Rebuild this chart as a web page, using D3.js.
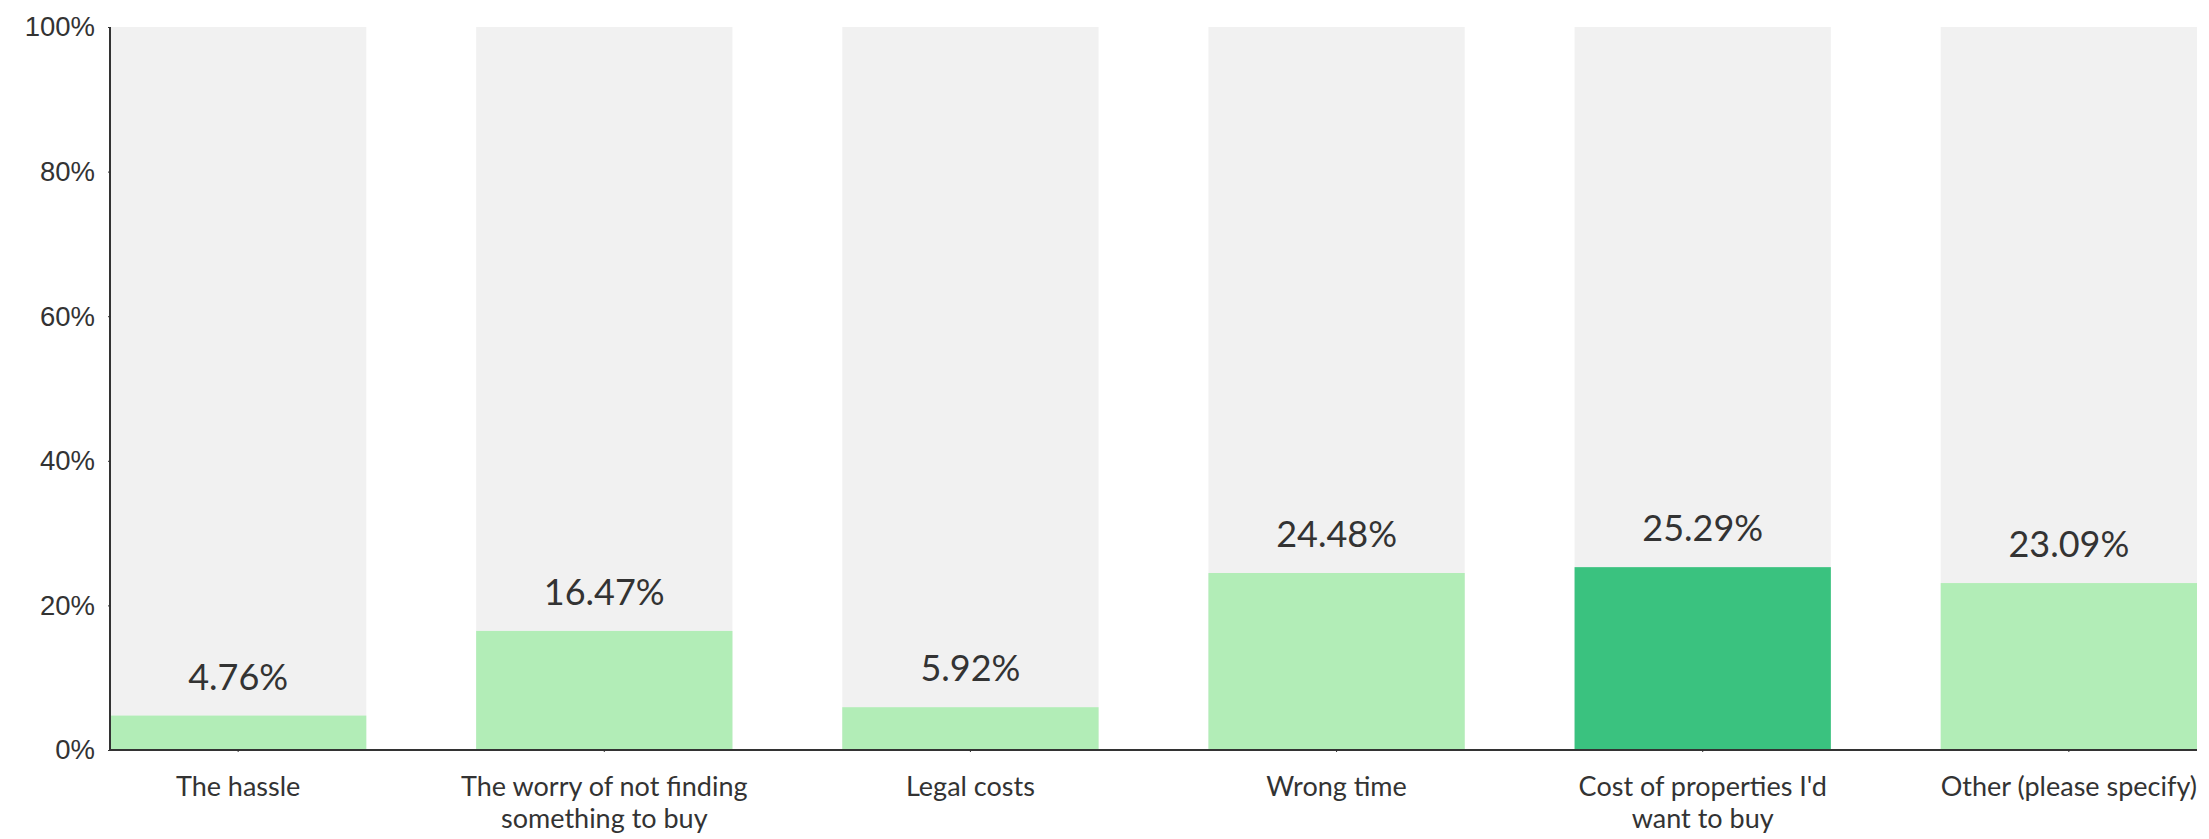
<!DOCTYPE html>
<html>
<head>
<meta charset="utf-8">
<script src="https://cdn.jsdelivr.net/npm/d3@7/dist/d3.min.js"></script>
<style>
  html,body{margin:0;padding:0;background:#fff;}
  svg{display:block;font-family:Lato, "Open Sans", sans-serif;}
  .axis path,.axis line{stroke:#333;}
  .axis text{fill:#333;}
</style>
</head>
<body>
<svg id="chart" width="2209" height="839"></svg>
<script>
/* survey: reasons for not moving */
const categories = [
  ["The hassle"],
  ["The worry of not finding","something to buy"],
  ["Legal costs"],
  ["Wrong time"],
  ["Cost of properties I'd","want to buy"],
  ["Other (please specify)"]
];
const values = [4.76, 16.47, 5.92, 24.48, 25.29, 23.09];
const highlightIndex = 4;
const yTicks = [0, 20, 40, 60, 80, 100];

const LIGHT = "#b2edb7", DARK = "#3ac27f", TRACK = "#f1f1f1", INK = "#333";

const svg = d3.select("#chart");
const m = {left:110, right:12, top:27, bottom:89};
const W = 2209, H = 839;

const x = d3.scaleBand().domain(d3.range(values.length))
  .range([m.left, W - m.right]).paddingInner(0.3).paddingOuter(0);
const y = d3.scaleLinear().domain([0,100]).range([H - m.bottom, m.top]);

/* grey full-height tracks */
svg.append("g").selectAll("rect").data(values).join("rect")
  .attr("x",(d,i)=>x(i)).attr("width",x.bandwidth())
  .attr("y",y(100)).attr("height",y(0)-y(100))
  .attr("fill",TRACK);

svg.append("g").selectAll("rect").data(values).join("rect")
  .attr("x",(d,i)=>x(i)).attr("width",x.bandwidth())
  .attr("y",d=>y(d)).attr("height",d=>y(0)-y(d))
  .attr("fill",(d,i)=> i===highlightIndex ? DARK : LIGHT);

svg.append("g").selectAll("text").data(values).join("text")
  .attr("x",(d,i)=>x(i)+x.bandwidth()/2)
  .attr("y",d=>y(d)-26)
  .attr("text-anchor","middle")
  .attr("font-size",36).attr("fill",INK)
  .text(d=>d.toFixed(2)+"%");

/* axes */
const ya = svg.append("g").attr("class","axis")
  .attr("transform",`translate(${m.left},0)`)
  .call(d3.axisLeft(y).tickValues(yTicks).tickSize(2).tickPadding(13)
    .tickFormat(d=>d+"%"));
ya.select(".domain").attr("stroke-width",2).attr("d",`M0,${y(100)}V${y(0)}`);
ya.selectAll("text").attr("font-size",27.5);

const xa = svg.append("g").attr("class","axis")
  .attr("transform",`translate(0,${y(0)})`)
  .call(d3.axisBottom(x).tickSize(2).tickFormat(""));
xa.select(".domain").attr("stroke-width",2).attr("d",`M${m.left},0H${W - m.right}`);

const lab = svg.append("g").selectAll("text").data(categories).join("text")
  .attr("x",(d,i)=>x(i)+x.bandwidth()/2)
  .attr("y",y(0)+46)
  .attr("text-anchor","middle")
  .attr("font-size",27).attr("fill",INK);
lab.selectAll("tspan").data(d=>d).join("tspan")
  .attr("x",function(){ return this.parentNode.getAttribute("x"); })
  .attr("dy",(d,i)=> i ? 32 : 0)
  .text(d=>d);
</script>
</body>
</html>
